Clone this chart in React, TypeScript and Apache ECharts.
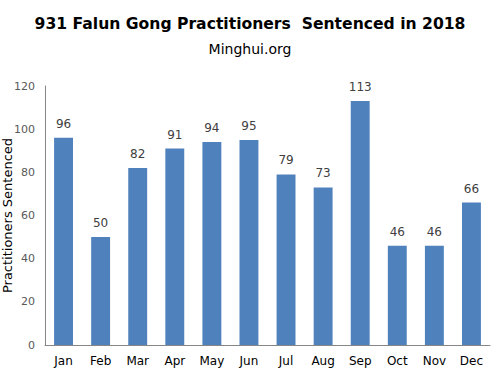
import React, { useEffect, useRef } from "react";
import * as echarts from "echarts";

const months = ["Jan", "Feb", "Mar", "Apr", "May", "Jun", "Jul", "Aug", "Sep", "Oct", "Nov", "Dec"];
const sentenced = [96, 50, 82, 91, 94, 95, 79, 73, 113, 46, 46, 66];
const yTicks = { min: 0, max: 120, interval: 20 };

export default function App() {
  const ref = useRef<HTMLDivElement>(null);
  useEffect(() => {
    const chart = echarts.init(ref.current!, null, { renderer: "svg" });
    const font = "Verdana, 'DejaVu Sans', sans-serif";
    chart.setOption({
      animation: false,
      textStyle: { fontFamily: font },
      title: [
        {
          text: "931 Falun Gong Practitioners  Sentenced in 2018",
          left: "center",
          top: 11,
          textStyle: { fontFamily: font, fontSize: 15.6, fontWeight: "bold", color: "#000" },
        },
        {
          text: "Minghui.org",
          left: "center",
          top: 37,
          textStyle: { fontFamily: font, fontSize: 14, fontWeight: "normal", color: "#000" },
        },
      ],
      grid: { left: 45, right: 10, top: 86, bottom: 39, containLabel: false, outerBoundsMode: "none" },
      xAxis: {
        type: "category",
        data: months,
        axisLine: { lineStyle: { color: "#868686", width: 1 } },
        axisTick: { show: false },
        axisLabel: { color: "#000", fontSize: 12, margin: 10, fontFamily: font },
      },
      yAxis: {
        type: "value",
        min: yTicks.min,
        max: yTicks.max,
        interval: yTicks.interval,
        name: "Practitioners Sentenced",
        nameLocation: "middle",
        nameGap: 31,
        nameMoveOverlap: false,
        nameTextStyle: { color: "#000", fontSize: 13, fontFamily: font },
        axisLine: { show: true, lineStyle: { color: "#868686", width: 1 } },
        axisTick: { show: false },
        splitLine: { show: false },
        axisLabel: { color: "#595959", fontSize: 11, margin: 10, fontFamily: font },
      },
      series: [
        {
          type: "bar",
          data: sentenced,
          barWidth: "51%",
          itemStyle: { color: "#4f81bd" },
          label: {
            show: true,
            position: "top",
            distance: 8,
            color: "#404040",
            fontSize: 12,
            fontFamily: font,
          },
        },
      ],
    });
    return () => chart.dispose();
  }, []);
  return <div ref={ref} style={{ position: "absolute", left: 0, top: 0, width: 500, height: 384 }} />;
}
